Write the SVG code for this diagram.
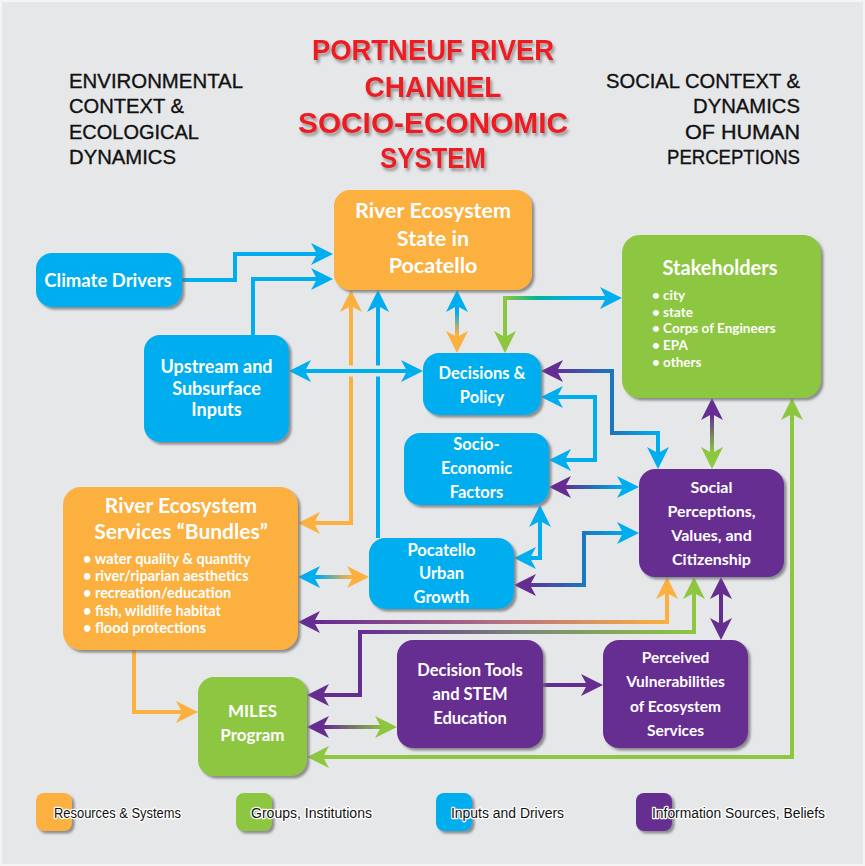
<svg xmlns="http://www.w3.org/2000/svg" width="865" height="866" viewBox="0 0 865 866">
<style>
.t{font-family:Lato,"Open Sans","Liberation Sans",sans-serif;font-weight:700;fill:#fff;text-anchor:middle}
.b{font-family:Lato,"Open Sans","Liberation Sans",sans-serif;font-weight:700;fill:#fff;font-size:13.5px}
.h{font-family:"Liberation Sans",Arial,sans-serif;fill:#111;font-size:20px;stroke:#111;stroke-width:0.35px}
.ttl{font-family:"Liberation Sans",Arial,sans-serif;font-weight:700;fill:#ed1c24;font-size:30px;text-anchor:middle}
.lg{font-family:"Liberation Sans",Arial,sans-serif;fill:#111;font-size:14px;stroke:#fff;stroke-width:2.5px;paint-order:stroke;stroke-linejoin:round}
.c{fill:none;stroke-width:4}
.o{fill:#fbb040}.bl{fill:#00aeef}.g{fill:#8dc63f}.p{fill:#662d91}
</style>
<defs>
<filter id="sh" x="-10%" y="-10%" width="130%" height="130%"><feDropShadow dx="2.5" dy="2.5" stdDeviation="1" flood-color="#6d6e71" flood-opacity="0.75"/></filter>
<filter id="tsh" x="-10%" y="-20%" width="130%" height="160%"><feDropShadow dx="2" dy="3" stdDeviation="1.5" flood-color="#555" flood-opacity="0.55"/></filter>
<marker id="mo" viewBox="0 0 22 22" refX="12" refY="11" markerWidth="22" markerHeight="22" markerUnits="userSpaceOnUse" orient="auto-start-reverse"><path d="M22,11 L0,0 L6,11 L0,22 Z" fill="#fbb040"/></marker>
<marker id="mb" viewBox="0 0 22 22" refX="12" refY="11" markerWidth="22" markerHeight="22" markerUnits="userSpaceOnUse" orient="auto-start-reverse"><path d="M22,11 L0,0 L6,11 L0,22 Z" fill="#00aeef"/></marker>
<marker id="mg" viewBox="0 0 22 22" refX="12" refY="11" markerWidth="22" markerHeight="22" markerUnits="userSpaceOnUse" orient="auto-start-reverse"><path d="M22,11 L0,0 L6,11 L0,22 Z" fill="#8dc63f"/></marker>
<marker id="mp" viewBox="0 0 22 22" refX="12" refY="11" markerWidth="22" markerHeight="22" markerUnits="userSpaceOnUse" orient="auto-start-reverse"><path d="M22,11 L0,0 L6,11 L0,22 Z" fill="#662d91"/></marker>
<linearGradient id="g6" gradientUnits="userSpaceOnUse" x1="0" y1="312" x2="0" y2="334"><stop offset="0" stop-color="#00aeef"/><stop offset="1" stop-color="#fbb040"/></linearGradient>
<linearGradient id="g7" gradientUnits="userSpaceOnUse" x1="505" y1="0" x2="600" y2="0"><stop offset="0" stop-color="#8dc63f"/><stop offset="0.35" stop-color="#00b39b"/><stop offset="0.75" stop-color="#00aeef"/></linearGradient>
<linearGradient id="g8" gradientUnits="userSpaceOnUse" x1="551" y1="0" x2="660" y2="0"><stop offset="0" stop-color="#662d91"/><stop offset="0.55" stop-color="#1c75bc"/><stop offset="1" stop-color="#00aeef"/></linearGradient>
<linearGradient id="g10" gradientUnits="userSpaceOnUse" x1="565" y1="0" x2="625" y2="0"><stop offset="0" stop-color="#662d91"/><stop offset="0.5" stop-color="#1c75bc"/><stop offset="1" stop-color="#00aeef"/></linearGradient>
<linearGradient id="g12" gradientUnits="userSpaceOnUse" x1="524" y1="0" x2="629" y2="0"><stop offset="0" stop-color="#662d91"/><stop offset="0.55" stop-color="#1c75bc"/><stop offset="1" stop-color="#00aeef"/></linearGradient>
<linearGradient id="g13" gradientUnits="userSpaceOnUse" x1="318" y1="0" x2="350" y2="0"><stop offset="0" stop-color="#00aeef"/><stop offset="1" stop-color="#fbb040"/></linearGradient>
<linearGradient id="g14" gradientUnits="userSpaceOnUse" x1="320" y1="0" x2="667" y2="0"><stop offset="0" stop-color="#662d91"/><stop offset="0.5" stop-color="#b06e86"/><stop offset="1" stop-color="#fbb040"/></linearGradient>
<linearGradient id="g15" gradientUnits="userSpaceOnUse" x1="360" y1="0" x2="694" y2="0"><stop offset="0" stop-color="#662d91"/><stop offset="0.5" stop-color="#7a8a78"/><stop offset="1" stop-color="#8dc63f"/></linearGradient>
<linearGradient id="g18" gradientUnits="userSpaceOnUse" x1="325" y1="0" x2="385" y2="0"><stop offset="0" stop-color="#662d91"/><stop offset="1" stop-color="#8dc63f"/></linearGradient>
<linearGradient id="g21" gradientUnits="userSpaceOnUse" x1="0" y1="415" x2="0" y2="452"><stop offset="0" stop-color="#662d91"/><stop offset="1" stop-color="#8dc63f"/></linearGradient>
</defs>
<rect x="0" y="0" width="865" height="866" fill="#e6e7e8"/>
<rect x="1" y="1" width="863" height="864" fill="none" stroke="#f4f4f5" stroke-width="2"/>

<g id="titles">
<g filter="url(#tsh)">
<text class="ttl" x="433" y="60" textLength="242" lengthAdjust="spacingAndGlyphs">PORTNEUF RIVER</text>
<text class="ttl" x="433" y="97" textLength="137" lengthAdjust="spacingAndGlyphs">CHANNEL</text>
<text class="ttl" x="433" y="133" textLength="270" lengthAdjust="spacingAndGlyphs">SOCIO-ECONOMIC</text>
<text class="ttl" x="433" y="168" textLength="106" lengthAdjust="spacingAndGlyphs">SYSTEM</text>
</g>
<text class="h" x="69" y="88" textLength="174" lengthAdjust="spacingAndGlyphs">ENVIRONMENTAL</text>
<text class="h" x="69" y="113" textLength="115" lengthAdjust="spacingAndGlyphs">CONTEXT &amp;</text>
<text class="h" x="69" y="139" textLength="130" lengthAdjust="spacingAndGlyphs">ECOLOGICAL</text>
<text class="h" x="69" y="164" textLength="107" lengthAdjust="spacingAndGlyphs">DYNAMICS</text>
<text class="h" x="800" y="88" text-anchor="end" textLength="194" lengthAdjust="spacingAndGlyphs">SOCIAL CONTEXT &amp;</text>
<text class="h" x="800" y="113" text-anchor="end" textLength="107" lengthAdjust="spacingAndGlyphs">DYNAMICS</text>
<text class="h" x="800" y="139" text-anchor="end" textLength="115" lengthAdjust="spacingAndGlyphs">OF HUMAN</text>
<text class="h" x="800" y="164" text-anchor="end" textLength="133" lengthAdjust="spacingAndGlyphs">PERCEPTIONS</text>
</g>

<g id="connectors">
<path class="c" stroke="#00aeef" d="M182,280 H235 V254 H323" marker-end="url(#mb)"/>
<path class="c" stroke="#00aeef" d="M253,335 V279 H323" marker-end="url(#mb)"/>
<path class="c" stroke="#fbb040" d="M351,300 V523 H308" marker-start="url(#mo)" marker-end="url(#mo)"/>
<path class="c" stroke="#00aeef" d="M378,538 V300" marker-end="url(#mb)"/>
<path fill="none" stroke="#e6e7e8" stroke-width="11" d="M340,371 H390"/>
<path class="c" stroke="#00aeef" d="M299,371 H413" marker-start="url(#mb)" marker-end="url(#mb)"/>
<path class="c" stroke="url(#g6)" d="M457,300 V343" marker-start="url(#mb)" marker-end="url(#mo)"/>
<path class="c" stroke="url(#g7)" d="M505,343 V298 H612" marker-start="url(#mg)" marker-end="url(#mb)"/>
<path class="c" stroke="url(#g8)" d="M551,371 H612 V433 H658 V459" marker-start="url(#mp)" marker-end="url(#mb)"/>
<path class="c" stroke="#00aeef" d="M551,397 H595 V460 H559" marker-start="url(#mb)" marker-end="url(#mb)"/>
<path class="c" stroke="url(#g10)" d="M559,487 H629" marker-start="url(#mp)" marker-end="url(#mb)"/>
<path class="c" stroke="#00aeef" d="M524,558 H540 V515" marker-start="url(#mb)" marker-end="url(#mb)"/>
<path class="c" stroke="url(#g12)" d="M524,585 H584 V533 H629" marker-start="url(#mp)" marker-end="url(#mb)"/>
<path class="c" stroke="url(#g13)" d="M308,577 H359" marker-start="url(#mb)" marker-end="url(#mo)"/>
<path class="c" stroke="url(#g14)" d="M308,622 H667 V587" marker-start="url(#mp)" marker-end="url(#mo)"/>
<path class="c" stroke="url(#g15)" d="M317,695 H360 V632 H694 V587" marker-start="url(#mp)" marker-end="url(#mg)"/>
<path class="c" stroke="#662d91" d="M721,587 V630" marker-start="url(#mp)" marker-end="url(#mp)"/>
<path class="c" stroke="#662d91" d="M543,685 H593" marker-end="url(#mp)"/>
<path class="c" stroke="url(#g18)" d="M317,727 H387" marker-start="url(#mp)" marker-end="url(#mg)"/>
<path class="c" stroke="#fbb040" d="M134,650 V712 H188" marker-end="url(#mo)"/>
<path class="c" stroke="#8dc63f" d="M317,757 H792 V408" marker-start="url(#mg)" marker-end="url(#mg)"/>
<path class="c" stroke="url(#g21)" d="M712,408 V459" marker-start="url(#mp)" marker-end="url(#mg)"/>
</g>

<g id="n-river-state"><rect class="o" filter="url(#sh)" x="334" y="190" width="198" height="100" rx="16"/>
<text class="t" font-size="21.5" x="433" y="218">River Ecosystem</text><text class="t" font-size="21.5" x="433" y="246">State in</text><text class="t" font-size="21.5" x="433" y="273">Pocatello</text></g>

<g id="n-climate"><rect class="bl" filter="url(#sh)" x="36" y="253" width="146" height="54" rx="16"/>
<text class="t" font-size="18.5" x="108" y="287">Climate Drivers</text></g>

<g id="n-upstream"><rect class="bl" filter="url(#sh)" x="144" y="335" width="145" height="107" rx="16"/>
<text class="t" font-size="18" x="216.5" y="373">Upstream and</text><text class="t" font-size="18" x="216.5" y="395">Subsurface</text><text class="t" font-size="18" x="216.5" y="416">Inputs</text></g>

<g id="n-decisions"><rect class="bl" filter="url(#sh)" x="423" y="353" width="118" height="62" rx="16"/>
<text class="t" font-size="16.5" x="482" y="379">Decisions &amp;</text><text class="t" font-size="16.5" x="482" y="403">Policy</text></g>

<g id="n-socio"><rect class="bl" filter="url(#sh)" x="404" y="433" width="145" height="72" rx="16"/>
<text class="t" font-size="16.5" x="476.5" y="450">Socio-</text><text class="t" font-size="16.5" x="476.5" y="474">Economic</text><text class="t" font-size="16.5" x="476.5" y="498">Factors</text></g>

<g id="n-urban"><rect class="bl" filter="url(#sh)" x="369" y="538" width="145" height="71" rx="16"/>
<text class="t" font-size="16.5" x="441.5" y="556">Pocatello</text><text class="t" font-size="16.5" x="441.5" y="579">Urban</text><text class="t" font-size="16.5" x="441.5" y="603">Growth</text></g>

<g id="n-stakeholders"><rect class="g" filter="url(#sh)" x="622" y="235" width="199" height="163" rx="18"/>
<text class="t" font-size="20" x="720" y="275">Stakeholders</text>
<text class="b" x="652" y="300">• city</text><text class="b" x="652" y="316.5">• state</text><text class="b" x="652" y="333">• Corps of Engineers</text><text class="b" x="652" y="350">• EPA</text><text class="b" x="652" y="366.5">• others</text></g>

<g id="n-social"><rect class="p" filter="url(#sh)" x="639" y="469" width="145" height="108" rx="16"/>
<text class="t" font-size="16" x="711.5" y="493">Social</text><text class="t" font-size="16" x="711.5" y="517">Perceptions,</text><text class="t" font-size="16" x="711.5" y="541">Values, and</text><text class="t" font-size="16" x="711.5" y="565">Citizenship</text></g>

<g id="n-bundles"><rect class="o" filter="url(#sh)" x="63" y="487" width="235" height="163" rx="18"/>
<text class="t" font-size="21" x="181" y="513">River Ecosystem</text><text class="t" font-size="21" x="181" y="539">Services “Bundles”</text>
<g font-size="14.5"><text class="b" style="font-size:14.5px" x="83" y="564">• water quality &amp; quantity</text><text class="b" style="font-size:14.5px" x="83" y="581">• river/riparian aesthetics</text><text class="b" style="font-size:14.5px" x="83" y="598">• recreation/education</text><text class="b" style="font-size:14.5px" x="83" y="615.5">• fish, wildlife habitat</text><text class="b" style="font-size:14.5px" x="83" y="633">• flood protections</text></g></g>

<g id="n-miles"><rect class="g" filter="url(#sh)" x="198" y="677" width="109" height="99" rx="16"/>
<text class="t" font-size="17" x="252.5" y="717">MILES</text><text class="t" font-size="17" x="252.5" y="741">Program</text></g>

<g id="n-tools"><rect class="p" filter="url(#sh)" x="397" y="640" width="146" height="108" rx="16"/>
<text class="t" font-size="16.5" x="470" y="676">Decision Tools</text><text class="t" font-size="16.5" x="470" y="700">and STEM</text><text class="t" font-size="16.5" x="470" y="724">Education</text></g>

<g id="n-perceived"><rect class="p" filter="url(#sh)" x="603" y="640" width="145" height="108" rx="16"/>
<text class="t" font-size="15.5" x="675.5" y="663">Perceived</text><text class="t" font-size="15.5" x="675.5" y="687">Vulnerabilities</text><text class="t" font-size="15.5" x="675.5" y="712">of Ecosystem</text><text class="t" font-size="15.5" x="675.5" y="736">Services</text></g>

<g id="legend">
<rect class="o" filter="url(#sh)" x="36" y="793" width="36" height="38" rx="8"/>
<text class="lg" x="54" y="818" textLength="127" lengthAdjust="spacingAndGlyphs">Resources &amp; Systems</text>
<rect class="g" filter="url(#sh)" x="236" y="793" width="36" height="38" rx="8"/>
<text class="lg" x="251" y="818" textLength="121" lengthAdjust="spacingAndGlyphs">Groups, Institutions</text>
<rect class="bl" filter="url(#sh)" x="436" y="793" width="36" height="38" rx="8"/>
<text class="lg" x="451" y="818" textLength="113" lengthAdjust="spacingAndGlyphs">Inputs and Drivers</text>
<rect class="p" filter="url(#sh)" x="636" y="793" width="36" height="38" rx="8"/>
<text class="lg" x="652" y="818" textLength="173" lengthAdjust="spacingAndGlyphs">Information Sources, Beliefs</text>
</g>
</svg>
